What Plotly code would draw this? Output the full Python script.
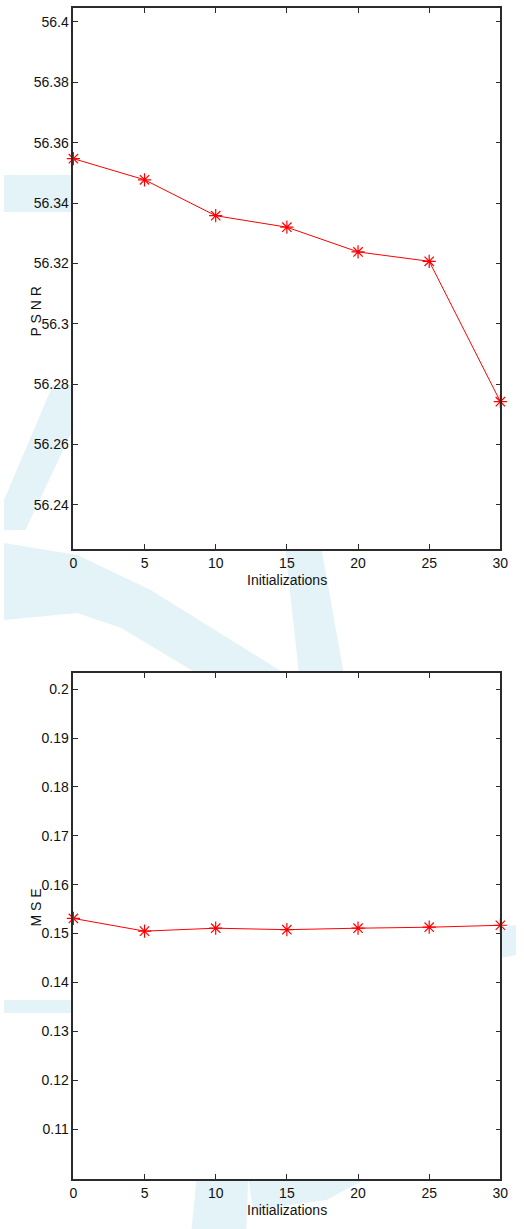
import plotly.graph_objects as go
from plotly.subplots import make_subplots

initializations = [0, 5, 10, 15, 20, 25, 30]
psnr = [56.3547, 56.3477, 56.3358, 56.3320, 56.3238, 56.3207, 56.2742]
mse = [0.1531, 0.1505, 0.1511, 0.1508, 0.1511, 0.1513, 0.1517]

x_ticks = [0, 5, 10, 15, 20, 25, 30]
psnr_ticks = [56.24, 56.26, 56.28, 56.3, 56.32, 56.34, 56.36, 56.38, 56.4]
psnr_labels = ["56.24", "56.26", "56.28", "56.3", "56.32", "56.34", "56.36", "56.38", "56.4"]
mse_ticks = [0.11, 0.12, 0.13, 0.14, 0.15, 0.16, 0.17, 0.18, 0.19, 0.2]
mse_labels = ["0.11", "0.12", "0.13", "0.14", "0.15", "0.16", "0.17", "0.18", "0.19", "0.2"]

W, H = 524, 1229
FONT = "Liberation Sans, Arial, sans-serif"
WM = "#e4f3f8"

fig = make_subplots(rows=2, cols=1)

for i, vals in enumerate([psnr, mse], start=1):
    fig.add_trace(go.Scatter(
        x=initializations, y=vals, mode="lines+markers",
        line=dict(color="#ff0000", width=1),
        marker=dict(symbol="asterisk-open", size=11, color="#ff0000",
                    line=dict(color="#ff0000", width=1.2)),
        cliponaxis=False, showlegend=False, hoverinfo="skip"), row=i, col=1)

def pd(top, bottom):
    return [1 - bottom / H, 1 - top / H]

def path(pts):
    return "M " + " L ".join(f"{x / W:.5f},{1 - y / H:.5f}" for x, y in pts) + " Z"

# faint background watermark (decoration outside axes)
wm_polys = [
    [(0, 175), (71, 175), (71, 212), (0, 212)],
    [(50, 385), (75, 385), (75, 420), (22, 530), (0, 530), (0, 500)],
    [(0, 543), (75, 555), (150, 590), (290, 675), (200, 675), (120, 628), (75, 613), (0, 620)],
    [(288, 549), (325, 549), (348, 675), (302, 675)],
    [(508, 928), (524, 925), (524, 955), (508, 958)],
    [(0, 1000), (71, 1000), (71, 1013), (0, 1013)],
    [(197, 1179), (250, 1179), (248, 1229), (192, 1229)],
    [(250, 1179), (370, 1179), (330, 1200), (255, 1210)],
]
shapes = [dict(type="path", path=path(p), xref="paper", yref="paper",
               fillcolor=WM, line=dict(width=0), layer="below") for p in wm_polys]
# keep the axes interiors white
for top, bot in [(8, 549), (673, 1179)]:
    shapes.append(dict(type="rect", xref="paper", yref="paper",
                       x0=71 / W, x1=508 / W, y0=1 - bot / H, y1=1 - top / H,
                       fillcolor="white", line=dict(width=0), layer="below"))

axis_common = dict(showline=True, mirror="ticks", linecolor="#2b2b2b", linewidth=1.6,
                   ticks="inside", ticklen=5, tickcolor="#2b2b2b", tickwidth=1,
                   showgrid=False, zeroline=False,
                   tickfont=dict(family=FONT, size=14, color="#111"))

fig.update_xaxes(range=[0, 30], tickvals=x_ticks, ticktext=[str(t) for t in x_ticks],
                 domain=[71 / W, 508 / W], **axis_common)
fig.update_yaxes(**axis_common)

fig.update_layout(
    width=W, height=H, autosize=False, margin=dict(l=0, r=0, t=0, b=0, pad=0),
    paper_bgcolor="white", plot_bgcolor="rgba(0,0,0,0)",
    shapes=shapes,
    yaxis=dict(domain=pd(8, 549), range=[56.2254, 56.4046],
               tickvals=psnr_ticks, ticktext=psnr_labels),
    yaxis2=dict(domain=pd(673, 1179), range=[0.0998, 0.2033],
                tickvals=mse_ticks, ticktext=mse_labels),
)

ann_font = dict(family=FONT, size=14, color="#111")
cx = 0.5 * (71 + 508) / W
fig.add_annotation(text="Initializations", x=cx, y=1 - 580 / H,
                   xref="paper", yref="paper", showarrow=False, font=ann_font)
fig.add_annotation(text="Initializations", x=cx, y=1 - 1220 / H,
                   xref="paper", yref="paper", showarrow=False, font=ann_font)
fig.add_annotation(text="P S N R", x=23 / W, y=1 - 284 / H, textangle=-90,
                   xref="paper", yref="paper", showarrow=False, font=ann_font)
fig.add_annotation(text="M S E", x=23 / W, y=1 - 928 / H, textangle=-90,
                   xref="paper", yref="paper", showarrow=False, font=ann_font)

fig.write_html("out.html", config={"displayModeBar": False, "responsive": False},
               post_script="document.body.style.margin='0';document.body.style.overflow='hidden';")
